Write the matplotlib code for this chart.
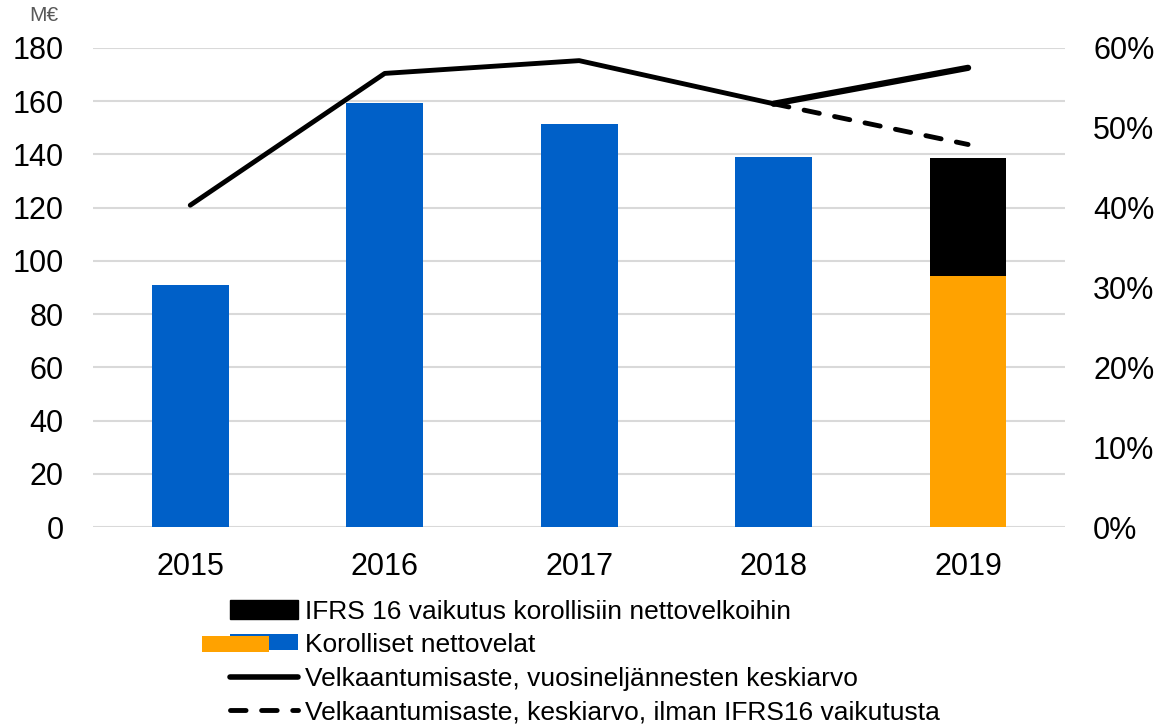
import matplotlib
matplotlib.use("Agg")
import matplotlib.pyplot as plt
import matplotlib.patches as mpatches
from matplotlib.lines import Line2D
from matplotlib.legend_handler import HandlerBase

plt.rcParams['font.family'] = ['Liberation Sans', 'DejaVu Sans']

years = ['2015', '2016', '2017', '2018', '2019']
net_debt_blue = [91, 159.3, 151.4, 139, None]
net_debt_2019_orange = 94.3
ifrs16_effect_2019 = 44.4
gearing = [40.3, 56.8, 58.4, 53.0, 57.5]
gearing_excl_ifrs16 = [53.0, 47.9]  # 2018, 2019

left_ticks = list(range(0, 181, 20))
right_ticks = [0, 10, 20, 30, 40, 50, 60]

BLUE = '#0060C8'
ORANGE = '#FFA200'
BLACK = '#000000'
GRID = '#D9D9D9'

fig = plt.figure(figsize=(11.63, 7.25), dpi=100)
ax = fig.add_axes([0.080, 0.273, 0.836, 0.661])
ax2 = ax.twinx()

x = list(range(len(years)))
bw = 0.395
blue_x = [i for i, v in zip(x, net_debt_blue) if v is not None]
blue_v = [v for v in net_debt_blue if v is not None]
ax.bar(blue_x, blue_v, width=bw, color=BLUE, zorder=2)
ax.bar([x[4]], [net_debt_2019_orange], width=bw, color=ORANGE, zorder=2)
ax.bar([x[4]], [ifrs16_effect_2019], bottom=[net_debt_2019_orange], width=bw, color=BLACK, zorder=2)

ax.set_xlim(-0.5, 4.5)
ax.set_ylim(0, 180)
ax.set_yticks(left_ticks)
ax.set_xticks(x)
ax.set_xticklabels(years)
ax.yaxis.grid(True, color=GRID, linewidth=1.5)
ax.set_axisbelow(True)
for s in ax.spines.values():
    s.set_visible(False)
for s in ax2.spines.values():
    s.set_visible(False)
ax.tick_params(axis='both', length=0, labelsize=22, colors='black')
ax.tick_params(axis='x', pad=18)
ax.tick_params(axis='y', pad=21)

ax2.set_ylim(0, 60)
ax2.set_yticks(right_ticks)
ax2.set_yticklabels([f'{t}%' for t in right_ticks])
ax2.tick_params(axis='y', length=0, labelsize=22, pad=20)

ax2.plot(x[:4], gearing[:4], color=BLACK, lw=3.5, solid_capstyle='round', zorder=3)
ax2.plot(x[3:], gearing[3:], color=BLACK, lw=4.5, solid_capstyle='round', zorder=3)
ax2.plot(x[3:], gearing_excl_ifrs16, color=BLACK, lw=3.5, dashes=(3.2, 3.2),
         dash_capstyle='round', zorder=3)

fig.text(0.038, 0.979, 'M€', fontsize=15, color='#595959', ha='center', va='center')


class TwoPatchHandler(HandlerBase):
    def create_artists(self, legend, orig_handle, xdescent, ydescent,
                        width, height, fontsize, trans):
        shift = width * 0.42
        blue = mpatches.Rectangle((-xdescent, -ydescent + height * 0.1), width, height * 0.9,
                                  facecolor=BLUE, edgecolor='none', transform=trans)
        orange = mpatches.Rectangle((-xdescent - shift, -ydescent), width, height * 0.9,
                                    facecolor=ORANGE, edgecolor='none', transform=trans)
        return [blue, orange]


h_ifrs = mpatches.Patch(color=BLACK)
h_net = mpatches.Patch(color=BLUE)
h_line = Line2D([], [], color=BLACK, lw=4, solid_capstyle='round')
h_dash = Line2D([], [], color=BLACK, lw=3.5, dashes=(3.2, 3.2), dash_capstyle='round')
labels = ['IFRS 16 vaikutus korollisiin nettovelkoihin',
          'Korolliset nettovelat',
          'Velkaantumisaste, vuosineljännesten keskiarvo',
          'Velkaantumisaste, keskiarvo, ilman IFRS16 vaikutusta']
fig.legend([h_ifrs, h_net, h_line, h_dash], labels,
           loc='upper left', bbox_to_anchor=(0.198, 0.173), frameon=False,
           fontsize=19, handlelength=2.55, handletextpad=0.3, labelspacing=0.365,
           borderpad=0, borderaxespad=0,
           handler_map={h_net: TwoPatchHandler()})

fig.savefig('out.png', dpi=100)
